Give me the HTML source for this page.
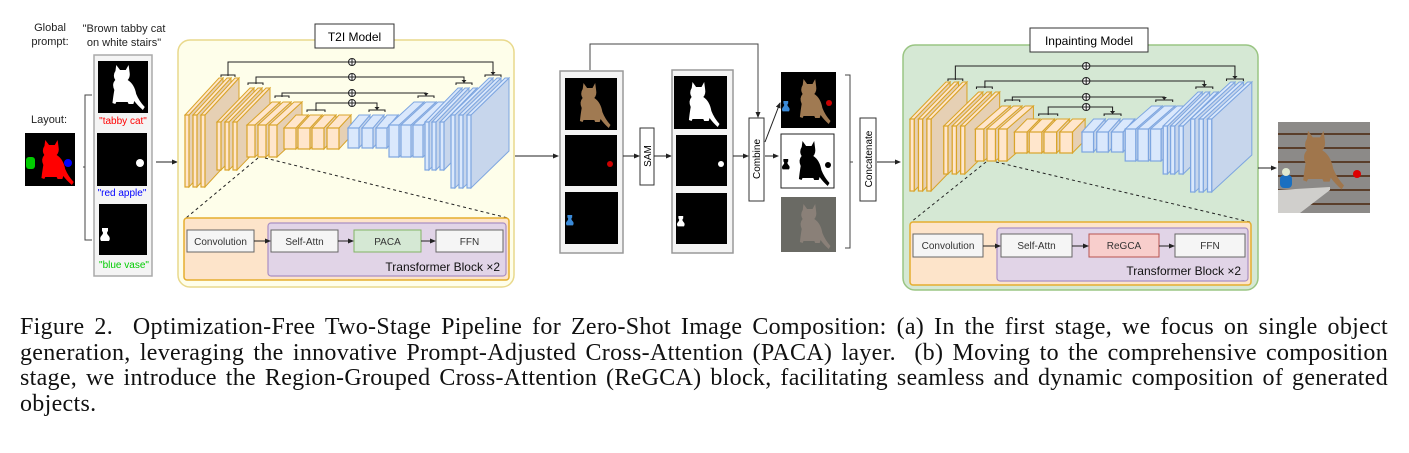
<!DOCTYPE html>
<html><head><meta charset="utf-8">
<style>
html,body{margin:0;padding:0;background:#fff;}
body{width:1409px;height:453px;position:relative;overflow:hidden;}
svg{position:absolute;left:0;top:0;}
.cap{position:absolute;left:20px;width:1368px;font-family:"Liberation Serif",serif;font-size:24px;letter-spacing:0.3px;line-height:25.5px;color:#111;text-align:justify;text-align-last:justify;white-space:nowrap;}
</style></head><body>
<svg id="s" width="1409" height="300" viewBox="0 0 1409 300" font-family="Liberation Sans, sans-serif">
<defs>
<marker id="ah" markerWidth="6" markerHeight="6" refX="5" refY="3" orient="auto" markerUnits="userSpaceOnUse"><path d="M0,0.5 L6,3 L0,5.5 z" fill="#222"/></marker>
<path id="cat" d="M14,10 l1,-7 l4,5 l6,0 l3,-5 l1,7 q1,5 -2,8 q7,4 9,14 q3,7 9,13 l-2,3 q-6,-5 -9,-9 l-1,3 l-5,0 l-1,-2 l-12,0 l-1,2 l-3,-1 q1,-8 2,-13 q-3,-6 1,-10 q-3,-4 0,-9 z"/>
<path id="vase" d="M3,0 l6,0 l0,3 q-2,2 0,4 q3,3 1,6 l-8,0 q-2,-3 1,-6 q2,-2 0,-4 z"/>
</defs>

<g font-size="11" fill="#222" text-anchor="middle">
<text x="50" y="31">Global</text><text x="50" y="45">prompt:</text>
<text x="124" y="32">"Brown tabby cat</text><text x="124" y="46">on white stairs"</text>
<text x="49" y="123">Layout:</text>
</g>
<rect x="25" y="133" width="50" height="53" fill="#000"/>
<use href="#cat" transform="translate(31,137) scale(0.95,1)" fill="#f00"/>
<rect x="26" y="157" width="9" height="12" rx="3" fill="#0c0"/>
<circle cx="68" cy="163" r="4" fill="#00f"/>
<path d="M92,95 L85,95 L85,240 L92,240 M85,167 L83,167" fill="none" stroke="#444" stroke-width="1"/>
<rect x="94" y="55" width="58" height="221" fill="#f4f4f4" stroke="#aaa" stroke-width="1.5"/>
<rect x="98" y="61" width="50" height="52" fill="#000"/>
<use href="#cat" transform="translate(102,62) scale(0.95,1)" fill="#fff"/>
<text x="123" y="124" font-size="10" fill="#f00" text-anchor="middle">"tabby cat"</text>
<rect x="97" y="133" width="50" height="53" fill="#000"/>
<circle cx="140" cy="163" r="4" fill="#fff"/>
<text x="122" y="196" font-size="10" fill="#00f" text-anchor="middle">"red apple"</text>
<rect x="99" y="204" width="48" height="51" fill="#000"/>
<use href="#vase" transform="translate(99,228)" fill="#fff"/>
<text x="124" y="268" font-size="10" fill="#0c0" text-anchor="middle">"blue vase"</text>
<line x1="156" y1="162" x2="177" y2="162" stroke="#222" marker-end="url(#ah)"/>

<rect x="178" y="40" width="336" height="247" rx="12" fill="#fefeea" stroke="#e9d98c" stroke-width="1.5"/>
<rect x="315" y="24" width="79" height="24" fill="#fff" stroke="#333"/>
<text x="354.5" y="41" font-size="12" text-anchor="middle">T2I Model</text>
<g id="u1" transform="translate(185,0)"></g>
<line x1="258" y1="158" x2="186" y2="218" stroke="#222" stroke-dasharray="3,3"/>
<line x1="265" y1="158" x2="508" y2="218" stroke="#222" stroke-dasharray="3,3"/>
<rect x="184" y="218" width="325" height="62" rx="3" fill="#fde4ca" stroke="#e5ad2e" stroke-width="1.5"/>
<rect x="268" y="223" width="238" height="53" rx="3" fill="#e1d4e7" stroke="#a98fc4" stroke-width="1.2"/>
<g font-size="10" text-anchor="middle" fill="#333">
<rect x="187" y="230" width="67" height="22" fill="#f5f5f5" stroke="#666"/><text x="220.5" y="245">Convolution</text>
<rect x="271" y="230" width="67" height="22" fill="#f5f5f5" stroke="#666"/><text x="304.5" y="245">Self-Attn</text>
<rect x="354" y="230" width="67" height="22" fill="#d5e8d4" stroke="#82b366"/><text x="387.5" y="245">PACA</text>
<rect x="436" y="230" width="67" height="22" fill="#f5f5f5" stroke="#666"/><text x="469.5" y="245">FFN</text>
</g>
<g stroke="#222"><line x1="254" y1="241" x2="270" y2="241" marker-end="url(#ah)"/><line x1="338" y1="241" x2="353" y2="241" marker-end="url(#ah)"/><line x1="421" y1="241" x2="435" y2="241" marker-end="url(#ah)"/></g>
<text x="500" y="271" font-size="12" text-anchor="end" fill="#111">Transformer Block  ×2</text>

<line x1="515" y1="156" x2="558" y2="156" stroke="#222" marker-end="url(#ah)"/>
<path d="M590,70 L590,44 L758,44 L758,117" fill="none" stroke="#444" marker-end="url(#ah)"/>
<rect x="560" y="71" width="63" height="182" fill="#f4f4f4" stroke="#999" stroke-width="1.5"/>
<rect x="565" y="78" width="52" height="52" fill="#000"/>
<use href="#cat" transform="translate(570,80) scale(0.9,1)" fill="#a07a52"/>
<rect x="565" y="135" width="52" height="51" fill="#000"/>
<circle cx="610" cy="164" r="3" fill="#c00"/>
<rect x="565" y="192" width="53" height="52" fill="#000"/>
<use href="#vase" transform="translate(565,215) scale(0.8)" fill="#3a8ad8"/>
<line x1="623" y1="156" x2="639" y2="156" stroke="#222" marker-end="url(#ah)"/>
<rect x="640" y="128" width="14" height="57" fill="#fff" stroke="#333"/>
<text transform="translate(651,156) rotate(-90)" font-size="10" text-anchor="middle">SAM</text>
<line x1="654" y1="156" x2="671" y2="156" stroke="#222" marker-end="url(#ah)"/>
<rect x="672" y="70" width="61" height="183" fill="#f4f4f4" stroke="#999" stroke-width="1.5"/>
<rect x="674" y="76" width="53" height="53" fill="#000"/>
<use href="#cat" transform="translate(679,79) scale(0.9,1)" fill="#fff"/>
<rect x="676" y="135" width="51" height="51" fill="#000"/>
<circle cx="721" cy="164" r="3" fill="#fff"/>
<rect x="676" y="193" width="51" height="51" fill="#000"/>
<use href="#vase" transform="translate(676,216) scale(0.8)" fill="#fff"/>
<line x1="733" y1="156" x2="748" y2="156" stroke="#222" marker-end="url(#ah)"/>
<rect x="749" y="118" width="15" height="83" fill="#fff" stroke="#333"/>
<text transform="translate(760,159) rotate(-90)" font-size="10" text-anchor="middle">Combine</text>
<line x1="765" y1="142" x2="780" y2="103" stroke="#222" marker-end="url(#ah)"/>
<line x1="765" y1="156" x2="778" y2="156" stroke="#222" marker-end="url(#ah)"/>
<rect x="781" y="72" width="55" height="56" fill="#000"/>
<use href="#cat" transform="translate(790,76) scale(0.9,1)" fill="#a07a52"/>
<use href="#vase" transform="translate(781,101) scale(0.8)" fill="#3a8ad8"/>
<circle cx="829" cy="103" r="3" fill="#c00"/>
<rect x="781" y="134" width="53" height="54" fill="#fff" stroke="#222"/>
<use href="#cat" transform="translate(789,138) scale(0.9,1)" fill="#000"/>
<use href="#vase" transform="translate(781,159) scale(0.8)" fill="#000"/>
<circle cx="828" cy="165" r="3" fill="#000"/>
<rect x="781" y="197" width="55" height="55" fill="#6a6a64"/>
<use href="#cat" transform="translate(790,201) scale(0.9,1)" fill="#8a8078"/>
<path d="M845,75 L850,75 L850,248 L845,248 M850,162 L853,162" fill="none" stroke="#444"/>
<rect x="860" y="118" width="16" height="83" fill="#fff" stroke="#333"/>
<text transform="translate(872,159) rotate(-90)" font-size="10" text-anchor="middle">Concatenate</text>
<line x1="877" y1="162" x2="900" y2="162" stroke="#222" marker-end="url(#ah)"/>

<rect x="903" y="45" width="355" height="245" rx="12" fill="#d5e8d4" stroke="#9ac583" stroke-width="1.5"/>
<rect x="1030" y="28" width="118" height="24" fill="#fff" stroke="#333"/>
<text x="1089" y="45" font-size="12" text-anchor="middle">Inpainting Model</text>
<g id="u2" transform="translate(910,4) scale(1.055,1)"></g>
<line x1="986" y1="162" x2="911" y2="222" stroke="#222" stroke-dasharray="3,3"/>
<line x1="996" y1="162" x2="1250" y2="222" stroke="#222" stroke-dasharray="3,3"/>
<rect x="910" y="222" width="341" height="63" rx="3" fill="#fde4ca" stroke="#e5ad2e" stroke-width="1.5"/>
<rect x="997" y="228" width="251" height="53" rx="3" fill="#e1d4e7" stroke="#a98fc4" stroke-width="1.2"/>
<g font-size="10" text-anchor="middle" fill="#333">
<rect x="913" y="234" width="70" height="23" fill="#f5f5f5" stroke="#666"/><text x="948" y="249">Convolution</text>
<rect x="1001" y="234" width="71" height="23" fill="#f5f5f5" stroke="#666"/><text x="1036.5" y="249">Self-Attn</text>
<rect x="1089" y="234" width="70" height="23" fill="#f8cecc" stroke="#b85450"/><text x="1124" y="249">ReGCA</text>
<rect x="1175" y="234" width="70" height="23" fill="#f5f5f5" stroke="#666"/><text x="1210" y="249">FFN</text>
</g>
<g stroke="#222"><line x1="983" y1="246" x2="1000" y2="246" marker-end="url(#ah)"/><line x1="1072" y1="246" x2="1088" y2="246" marker-end="url(#ah)"/><line x1="1159" y1="246" x2="1174" y2="246" marker-end="url(#ah)"/></g>
<text x="1241" y="275" font-size="12" text-anchor="end" fill="#111">Transformer Block  ×2</text>

<line x1="1258" y1="168" x2="1276" y2="168" stroke="#222" marker-end="url(#ah)"/>
<rect x="1278" y="122" width="92" height="91" fill="#8c8a88"/>
<g stroke="#5a3e2a" stroke-width="2"><line x1="1278" y1="134" x2="1370" y2="134"/><line x1="1278" y1="148" x2="1370" y2="148"/><line x1="1278" y1="162" x2="1370" y2="162"/><line x1="1278" y1="176" x2="1370" y2="176"/><line x1="1278" y1="190" x2="1370" y2="190"/><line x1="1278" y1="204" x2="1370" y2="204"/></g>
<path d="M1278,190 L1330,187 L1330,190 L1300,213 L1278,213 z" fill="#d0cfcc"/>
<use href="#cat" transform="translate(1290,127) scale(1.2,1.3)" fill="#a0764c"/>
<rect x="1280" y="175" width="12" height="13" rx="4" fill="#1a6fc0"/>
<circle cx="1286" cy="172" r="4" fill="#dfe8cf"/>
<circle cx="1357" cy="174" r="4" fill="#d00"/>
</svg>

<div class="cap" style="top:315px">Figure 2.&nbsp; Optimization-Free Two-Stage Pipeline for Zero-Shot Image Composition: (a) In the first stage, we focus on single object</div>
<div class="cap" style="top:340.5px">generation, leveraging the innovative Prompt-Adjusted Cross-Attention (PACA) layer.&nbsp; (b) Moving to the comprehensive composition</div>
<div class="cap" style="top:366px">stage, we introduce the Region-Grouped Cross-Attention (ReGCA) block, facilitating seamless and dynamic composition of generated</div>
<div class="cap" style="top:391.5px;text-align:left;text-align-last:left">objects.</div>

<script>
(function(){
var O={s:"#d9a42a",f:"#ffe6cc",d:"#e6d0b4"},B={s:"#7ea6e0",f:"#dae8fc",d:"#c7d6ec"};
var st=[
[O,[0,8,16],4,115,72,34,37],[O,[32,40,48],4,122,48,33,34],[O,[62,73,84],8,125,32,25,23],
[O,[99,113,127,142],12,128,21,12,13],[B,[163,177,191],11,128,20,11,13],[B,[204,216,228],10,125,32,25,23],
[B,[240,247,255],4,122,48,33,34],[B,[266,274,282],4,115,73,38,37]];
var h="";
st.forEach(function(a){var c=a[0];a[1].forEach(function(x){var w=a[2],y=a[3],H=a[4],dx=a[5],dy=a[6];
h+='<polygon points="'+(x+w)+','+y+' '+(x+w+dx)+','+(y-dy)+' '+(x+w+dx)+','+(y+H-dy)+' '+(x+w)+','+(y+H)+'" fill="'+c.d+'" stroke="'+c.s+'" stroke-width="1"/>';
h+='<polygon points="'+x+','+y+' '+(x+dx)+','+(y-dy)+' '+(x+w+dx)+','+(y-dy)+' '+(x+w)+','+y+'" fill="'+c.f+'" stroke="'+c.s+'" stroke-width="1"/>';
h+='<rect x="'+x+'" y="'+y+'" width="'+w+'" height="'+H+'" fill="'+c.f+'" stroke="'+c.s+'" stroke-width="1.2"/>';});});
var sk=[[43,308,62,75,36,50,300,316],[71,279,77,83,63,78,271,287],[97,241,93,96,90,104,233,249],[131,192,103,110,122,140,184,200]];
sk.forEach(function(k){
h+='<path d="M'+k[0]+','+(k[3]+1)+' L'+k[0]+','+k[2]+' L'+k[1]+','+k[2]+' L'+k[1]+','+(k[3]-1)+'" fill="none" stroke="#222" stroke-width="1"/>';
h+='<path d="M'+(k[1]-2.5)+','+(k[3]-3)+' L'+k[1]+','+k[3]+' L'+(k[1]+2.5)+','+(k[3]-3)+'z" fill="#222"/>';
h+='<path d="M'+k[4]+','+(k[3]+2)+' L'+k[4]+','+k[3]+' L'+k[5]+','+k[3]+' L'+k[5]+','+(k[3]+2)+'" fill="none" stroke="#222"/>';
h+='<path d="M'+k[6]+','+(k[3]+2)+' L'+k[6]+','+k[3]+' L'+k[7]+','+k[3]+' L'+k[7]+','+(k[3]+2)+'" fill="none" stroke="#222"/>';
h+='<circle cx="167" cy="'+k[2]+'" r="3.5" fill="#fff" stroke="#222"/><path d="M163.5,'+k[2]+' h7 M167,'+(k[2]-3.5)+' v7" stroke="#222"/>';
});
document.getElementById("u1").innerHTML=h;document.getElementById("u2").innerHTML=h;
})();
</script>
</body></html>
